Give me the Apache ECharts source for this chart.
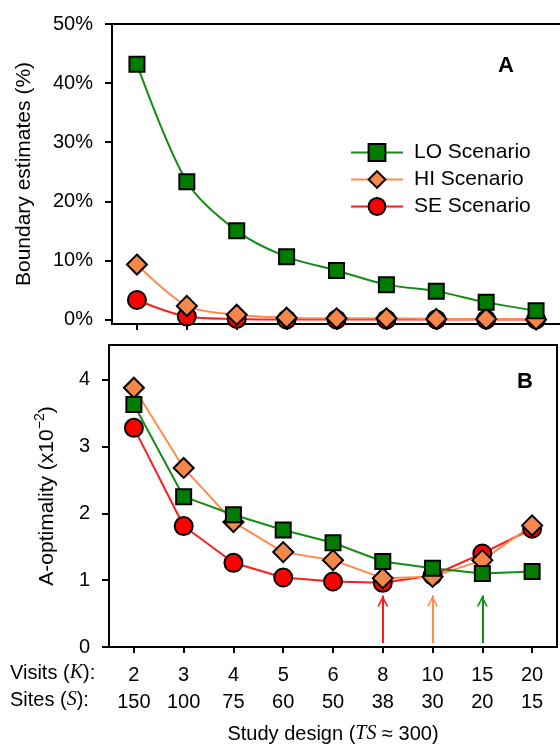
<!DOCTYPE html>
<html>
<head>
<meta charset="utf-8">
<script src="https://cdn.jsdelivr.net/npm/echarts@6/dist/echarts.min.js"></script>
<style>
html, body { margin: 0; padding: 0; background: #fff; }
#chart { width: 560px; height: 750px; }
</style>
</head>
<body>
<div id="chart"></div>
<script>
// study designs (x axis)
const visits = ['2', '3', '4', '5', '6', '8', '10', '15', '20']
const sites = ['150', '100', '75', '60', '50', '38', '30', '20', '15']

// panel A: boundary estimates (%)
const boundaryLO = [43.2, 23.3, 15.0, 10.6, 8.3, 5.9, 4.8, 2.9, 1.5]
const boundaryHI = [9.3, 2.3, 0.8, 0.3, 0.2, 0.2, 0.1, 0.1, 0.0]
const boundarySE = [3.3, 0.5, 0.1, 0.0, 0.0, 0.0, 0.0, 0.0, 0.0]

// panel B: A-optimality (x10^-2)
const aoptLO = [3.63, 2.25, 1.98, 1.75, 1.56, 1.28, 1.18, 1.10, 1.13]
const aoptHI = [3.88, 2.68, 1.87, 1.42, 1.30, 1.03, 1.05, 1.30, 1.82]
const aoptSE = [3.28, 1.81, 1.26, 1.04, 0.98, 0.96, 1.07, 1.40, 1.77]

// y tick labels
const ticksA = [0, 10, 20, 30, 40, 50]
const ticksB = [0, 1, 2, 3, 4]

// optimal design per scenario (arrows in panel B) and arrow span in y units
const optimum = { SE: '8', HI: '10', LO: '15' }
const arrowSpan = [0.06, 0.77]

const font = 'Liberation Sans, Arial, sans-serif'
const serif = 'Liberation Serif, Times New Roman, serif'

const scen = {
  LO: { fill: '#007d00', line: '#138c13', symbol: 'rect', size: 15 },
  HI: { fill: '#f5874b', line: '#ff8a4d', symbol: 'diamond', size: 20 },
  SE: { fill: '#ff0000', line: '#ff1c1c', symbol: 'circle', size: 18 }
}

// open chevron, tip at the middle of its box so the shaft reaches the tip
const chevron = 'path://M5,0L5.01,0.01ZM0,20L5,10L10,20L8.4,20L5,13.2L1.6,20Z'

const chart = echarts.init(document.getElementById('chart'))

const makeSeries = (key, data, panel) => {
  const s = scen[key]
  const series = {
    name: key + ' Scenario',
    type: 'line',
    xAxisIndex: panel,
    yAxisIndex: panel,
    data: data,
    smooth: panel === 0 ? 0.3 : false,
    symbol: s.symbol,
    symbolSize: s.size,
    showAllSymbol: true,
    lineStyle: { color: s.line, width: 2 },
    itemStyle: { color: s.fill, borderColor: '#000', borderWidth: 2 },
    emphasis: { disabled: true },
    animation: false
  }
  if (panel === 1) {
    series.markLine = {
      silent: true,
      symbol: ['none', chevron],
      symbolSize: [11, 22],
      label: { show: false },
      lineStyle: { color: s.line, width: 2, type: 'solid' },
      emphasis: { disabled: true },
      data: [[
        { coord: [optimum[key], arrowSpan[0]] },
        { coord: [optimum[key], arrowSpan[1]] }
      ]]
    }
  }
  return series
}

const blackLine = { show: true, onZero: false, lineStyle: { color: '#000', width: 2 } }

const option = {
  animation: false,
  textStyle: { fontFamily: font },
  grid: [
    { left: 112, top: 24, width: 449, height: 300, show: true, borderColor: '#000', borderWidth: 2, outerBoundsMode: 'none' },
    { left: 109, top: 345, width: 448, height: 302, show: true, borderColor: '#000', borderWidth: 2, outerBoundsMode: 'none' }
  ],
  legend: {
    data: ['LO Scenario', 'HI Scenario', 'SE Scenario'],
    orient: 'vertical',
    left: 345,
    top: 137,
    itemWidth: 52,
    itemHeight: 21,
    itemGap: 6,
    selectedMode: false,
    textStyle: { fontSize: 21, color: '#000', fontFamily: font, padding: [0, 0, 0, 6] }
  },
  xAxis: [
    {
      gridIndex: 0, type: 'category', data: visits, boundaryGap: true,
      axisLine: blackLine,
      axisTick: { show: true, alignWithLabel: true, interval: 0, length: 6, lineStyle: { color: '#000', width: 2 } },
      axisLabel: { show: false },
      splitLine: { show: false }
    },
    {
      gridIndex: 1, type: 'category', data: visits, boundaryGap: true,
      axisLine: blackLine,
      axisTick: { show: true, alignWithLabel: true, interval: 0, length: 6, lineStyle: { color: '#000', width: 2 } },
      axisLabel: {
        interval: 0, margin: 15, color: '#000',
        formatter: (v, i) => '{a|' + v + '}\n{a|' + sites[i] + '}',
        rich: { a: { fontSize: 20, lineHeight: 27, color: '#000', fontFamily: font } }
      },
      splitLine: { show: false },
      name: '{n|Study design (}{i|TS}{n| \u2248 300)}',
      nameLocation: 'middle',
      nameGap: 77,
      nameTextStyle: {
        rich: {
          n: { fontSize: 20, color: '#000', fontFamily: font },
          i: { fontSize: 20, color: '#000', fontFamily: serif, fontStyle: 'italic' }
        }
      }
    }
  ],
  yAxis: [
    {
      gridIndex: 0, type: 'value', min: -0.76, max: 50,
      axisLine: blackLine,
      axisTick: { show: true, length: 7, customValues: ticksA, lineStyle: { color: '#000', width: 2 } },
      axisLabel: { customValues: ticksA, formatter: v => v + '%', margin: 19, fontSize: 20, color: '#000' },
      splitLine: { show: false },
      name: 'Boundary estimates (%)',
      nameLocation: 'middle',
      nameRotate: 90,
      nameGap: 77,
      nameTextStyle: { fontSize: 21, color: '#000', fontFamily: font }
    },
    {
      gridIndex: 1, type: 'value', min: 0, max: 4.52,
      axisLine: blackLine,
      axisTick: { show: true, length: 7, customValues: ticksB, lineStyle: { color: '#000', width: 2 } },
      axisLabel: { customValues: ticksB, margin: 19, fontSize: 20, color: '#000' },
      splitLine: { show: false },
      name: '{a|A-optimality (x10}{s|\u22122}{a|)}',
      nameLocation: 'middle',
      nameRotate: 90,
      nameGap: 48,
      nameTextStyle: {
        rich: {
          a: { fontSize: 21, lineHeight: 28, color: '#000', fontFamily: font },
          s: { fontSize: 14, lineHeight: 28, verticalAlign: 'top', color: '#000', fontFamily: font }
        }
      }
    }
  ],
  graphic: [
    { type: 'text', left: 498, top: 55, style: { text: 'A', font: 'bold 22px ' + font, fill: '#000' } },
    { type: 'text', left: 517, top: 371, style: { text: 'B', font: 'bold 22px ' + font, fill: '#000' } },
    {
      type: 'text', left: 10, top: 663,
      style: {
        text: '{n|Visits (}{i|K}{n|):}',
        rich: {
          n: { fontSize: 20, fontFamily: font, fill: '#000' },
          i: { fontSize: 20, fontFamily: serif, fontStyle: 'italic', fill: '#000' }
        }
      }
    },
    {
      type: 'text', left: 10, top: 690,
      style: {
        text: '{n|Sites (}{i|S}{n|):}',
        rich: {
          n: { fontSize: 20, fontFamily: font, fill: '#000' },
          i: { fontSize: 20, fontFamily: serif, fontStyle: 'italic', fill: '#000' }
        }
      }
    }
  ],
  series: [
    makeSeries('SE', boundarySE, 0),
    makeSeries('HI', boundaryHI, 0),
    makeSeries('LO', boundaryLO, 0),
    makeSeries('SE', aoptSE, 1),
    makeSeries('HI', aoptHI, 1),
    makeSeries('LO', aoptLO, 1)
  ]
}

chart.setOption(option)
</script>
</body>
</html>
